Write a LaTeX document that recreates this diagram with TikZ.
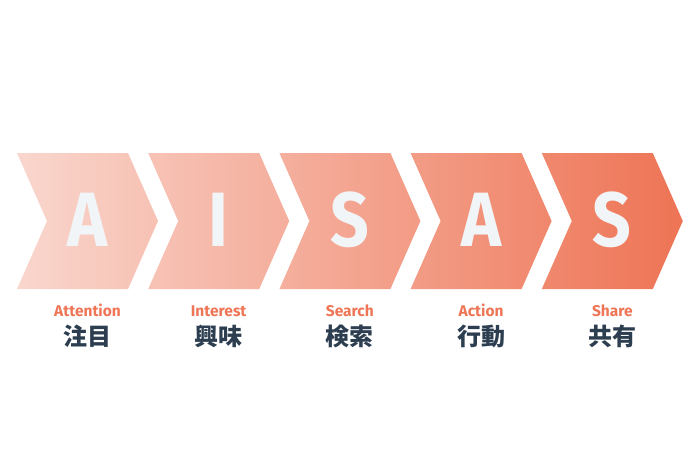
\documentclass[tikz,border=0pt]{standalone}
\usepackage{fontspec}
\setmainfont{Fira Sans}
\newfontfamily\jpfont{Noto Sans CJK JP}
\usepackage{xcolor}
\definecolor{colorStart}{HTML}{F9D6CD}
\definecolor{colorEnd}{HTML}{EE7455}
\definecolor{colorLabel}{HTML}{EE7556}
\definecolor{colorJapanese}{HTML}{2C3E50}
\definecolor{colorLetter}{HTML}{F2F5F8}
\usetikzlibrary{positioning}
\tikzset{chevron shade/.style={left color=colorStart, right color=colorEnd, draw=none}}

\begin{document}
\begin{tikzpicture}[x=1pt, y=-1pt, inner sep=0pt,
  letter/.style={anchor=base, text=colorLetter, font=\fontsize{77}{77}\selectfont\bfseries},
  english/.style={anchor=base, text=colorLabel, font=\fontsize{15.5}{16}\selectfont\bfseries},
  japanese/.style={text=colorJapanese, font=\jpfont\fontsize{24}{24}\selectfont\bfseries}]
\useasboundingbox (0,0) rectangle (700,451);
\shade[chevron shade] \foreach \i in {0,...,4} {(17+131.2*\i,153) -- ++(111,0) -- ++(30,68) -- ++(-30,68) -- ++(-111,0) -- ++(30,-68) -- cycle};
\foreach \l/\en/\jp [count=\i from 0] in {A/Attention/注目, I/Interest/興味, S/Search/検索, A/Action/行動, S/Share/共有} {
  \node[letter] (l\i) at (87.5+131.2*\i,246) {\scalebox{0.88}[1]{\l}};
  \node[english] (e\i) at (87.5+131.2*\i,316.7) {\en};
  \node[japanese, below=28.3pt of e\i.base, anchor=base] (j\i) {\jp};
}
\end{tikzpicture}
\end{document}
